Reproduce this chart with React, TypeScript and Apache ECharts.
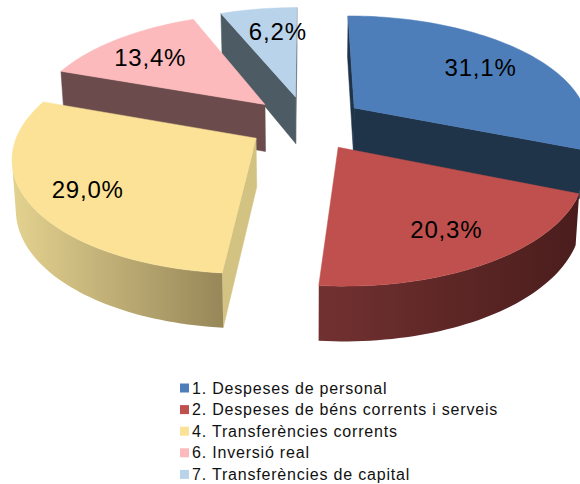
import React, { useEffect, useRef } from "react";
import * as echarts from "echarts";

const categories = [
  "1. Despeses de personal",
  "2. Despeses de béns corrents i serveis",
  "4. Transferències corrents",
  "6. Inversió real",
  "7. Transferències de capital",
];
const values = [31.1, 20.3, 29.0, 13.4, 6.2];
const valueLabels = ["31,1%", "20,3%", "29,0%", "13,4%", "6,2%"];

const topColors = ["#4D7EBA", "#BF504D", "#FBE296", "#FCBABC", "#B9D3EA"];
const sideColors = ["#1F3349", "#4C1F1E", "#D3C382", "#6B4B4C", "#4D5B65"];
const outerFrom = ["#1F3349", "#723131", "#E3D28F", "#6B4B4C", "#4D5B65"];
const outerTo = ["#1F3349", "#4A1D1C", "#978759", "#6B4B4C", "#4D5B65"];
const drawOrder = [4, 3, 0, 2, 1];
const labelReach = [0.71, 0.75, 0.77, 0.75, 0.78];
const labelNudgeX = [1, -1, 1, -2, 12];
const labelNudgeY = [-1, -1, 0, 3, 5];

const CX = 306.5;
const CY = 123;
const RX = 235;
const RY = 110;
const PERSPECTIVE = 0.15;
const EXPLODE = 0.25;
const total = values.reduce((a, b) => a + b, 0);

type P = [number, number];

function project(u: number, v: number): P {
  const s = 1 / (1 + PERSPECTIVE * v);
  return [CX + RX * u * s, CY - RY * v * s];
}
function below(p: P, v: number): P {
  return [CX + (p[0] - CX) * 0.987, p[1] + 48 - 6 * v];
}
function area(pts: P[]): number {
  let a = 0;
  pts.forEach((p, i) => {
    const q = pts[(i + 1) % pts.length];
    a += p[0] * q[1] - q[0] * p[1];
  });
  return a;
}

function renderSlice(index: number) {
  const before = values.slice(0, index).reduce((a, b) => a + b, 0);
  const a0 = (before / total) * Math.PI * 2;
  const a1 = ((before + values[index]) / total) * Math.PI * 2;
  const mid = (a0 + a1) / 2;
  const ou = EXPLODE * Math.sin(mid);
  const ov = EXPLODE * Math.cos(mid);
  const steps = Math.max(4, Math.round(((a1 - a0) * 180) / Math.PI / 1.5));

  const world: P[] = [];
  for (let i = 0; i <= steps; i++) {
    const t = a0 + ((a1 - a0) * i) / steps;
    world.push([ou + Math.sin(t), ov + Math.cos(t)]);
  }
  const top = world.map((w) => project(w[0], w[1]));
  const bottom = world.map((w, i) => below(top[i], w[1]));
  const apex = project(ou, ov);
  const apexLow = below(apex, ov);

  const children: any[] = [];
  const quad = (pts: P[], fill: any) => ({
    type: "polygon",
    shape: { points: pts },
    style: { fill, stroke: fill instanceof Object ? undefined : fill, lineWidth: 0.5 },
    silent: true,
  });

  const startWall: P[] = [apex, top[0], bottom[0], apexLow];
  if (area(startWall) < 0) children.push(quad(startWall, sideColors[index]));
  const endWall: P[] = [apex, top[steps], bottom[steps], apexLow];
  if (area(endWall) > 0) children.push(quad(endWall, sideColors[index]));

  const facing: number[] = [];
  for (let i = 0; i < steps; i++) {
    if (area([top[i], top[i + 1], bottom[i + 1], bottom[i]]) < 0) facing.push(i);
  }
  if (facing.length) {
    const first = facing[0];
    const last = facing[facing.length - 1] + 1;
    const pts = [...top.slice(first, last + 1), ...bottom.slice(first, last + 1).reverse()];
    const fill = new echarts.graphic.LinearGradient(0, 0, 1, 0, [
      { offset: 0, color: outerFrom[index] },
      { offset: 1, color: outerTo[index] },
    ]);
    children.push(quad(pts, fill));
  }

  children.push(quad([apex, ...top], topColors[index]));

  const f = labelReach[index];
  const lp = project(ou + f * Math.sin(mid), ov + f * Math.cos(mid));
  children.push({
    type: "text",
    x: lp[0] + labelNudgeX[index],
    y: lp[1] + labelNudgeY[index],
    z2: 10,
    silent: true,
    style: {
      text: valueLabels[index],
      fill: "#000000",
      font: '24px "Liberation Sans", Arial, sans-serif',
      align: "center",
      verticalAlign: "middle",
    },
  });
  return { type: "group", children };
}

export default function App() {
  const ref = useRef<HTMLDivElement>(null);
  useEffect(() => {
    const chart = echarts.init(ref.current!, undefined, { renderer: "svg" });
    chart.setOption({
      animation: false,
      backgroundColor: "#ffffff",
      legend: {
        data: categories,
        orient: "vertical",
        left: 180,
        top: 379,
        padding: 0,
        itemWidth: 9,
        itemHeight: 9,
        itemGap: 3.6,
        selectedMode: false,
        icon: "rect",
        textStyle: {
          color: "#111111",
          fontFamily: '"Liberation Sans", Arial, sans-serif',
          fontSize: 16,
          padding: [0, 0, 0, -2],
          lineHeight: 18,
        },
      },
      series: drawOrder.map((index, order) => ({
        type: "custom",
        name: categories[index],
        coordinateSystem: "none",
        z: 2 + order,
        silent: true,
        itemStyle: { color: topColors[index] },
        data: [values[index]],
        renderItem: () => renderSlice(index),
      })),
    });
    return () => chart.dispose();
  }, []);
  return (
    <div
      ref={ref}
      style={{
        position: "absolute",
        left: 0,
        top: 0,
        width: 580,
        height: 484,
        letterSpacing: "0.8px",
      }}
    />
  );
}
